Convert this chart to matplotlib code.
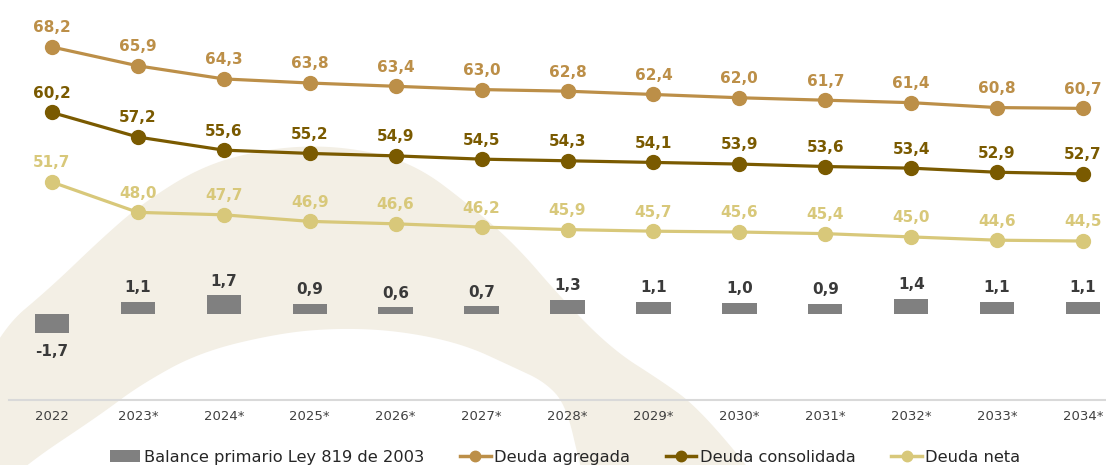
import matplotlib
matplotlib.use('Agg')
import matplotlib.pyplot as plt
from matplotlib.patches import Polygon, Patch
from matplotlib.lines import Line2D
import numpy as np

# datos
years = ["2022", "2023*", "2024*", "2025*", "2026*", "2027*", "2028*",
         "2029*", "2030*", "2031*", "2032*", "2033*", "2034*"]
balance_primario = [-1.7, 1.1, 1.7, 0.9, 0.6, 0.7, 1.3, 1.1, 1.0, 0.9, 1.4, 1.1, 1.1]
deuda_agregada = [68.2, 65.9, 64.3, 63.8, 63.4, 63.0, 62.8, 62.4, 62.0, 61.7, 61.4, 60.8, 60.7]
deuda_consolidada = [60.2, 57.2, 55.6, 55.2, 54.9, 54.5, 54.3, 54.1, 53.9, 53.6, 53.4, 52.9, 52.7]
deuda_neta = [51.7, 48.0, 47.7, 46.9, 46.6, 46.2, 45.9, 45.7, 45.6, 45.4, 45.0, 44.6, 44.5]

C_AGR = '#bc8f48'
C_CON = '#7a5a00'
C_NET = '#d8c87a'
C_BAR = '#808080'
C_BG = '#f3efe5'


def fmt(v):
    return f"{v:.1f}".replace('.', ',')


def chaikin(pts, n=4):
    # suaviza un poligono cerrado
    pts = np.asarray(pts, dtype=float)
    for _ in range(n):
        nxt = np.roll(pts, -1, axis=0)
        q = 0.75 * pts + 0.25 * nxt
        r = 0.25 * pts + 0.75 * nxt
        pts = np.empty((2 * len(q), 2))
        pts[0::2] = q
        pts[1::2] = r
    return pts


W, H = 1106, 465
fig = plt.figure(figsize=(W / 100, H / 100), dpi=100)

# arco decorativo de fondo (pixeles)
bg = fig.add_axes([0, 0, 1, 1], zorder=-1)
bg.set_xlim(0, W)
bg.set_ylim(H, 0)
bg.axis('off')
outer = [(-40, 420), (0, 330), (50, 288), (100, 240), (140, 205), (200, 167),
         (260, 150), (320, 145), (380, 153), (423, 170), (463, 200), (513, 242),
         (563, 300), (613, 350), (660, 380), (695, 405), (747, 465), (770, 500)]
inner = [(590, 500), (580, 465), (566, 405), (545, 382), (513, 367), (463, 344),
         (400, 331), (340, 328), (280, 333), (200, 352), (140, 385), (100, 415),
         (25, 465), (-10, 500)]
bg.add_patch(Polygon(chaikin(outer + inner), closed=True, facecolor=C_BG,
                     edgecolor='none'))

x = np.arange(len(years))
left = 9 / W
ax = fig.add_axes([left, 65 / H, 1117 / W, 400 / H])
ax2 = ax.twinx()
ax.patch.set_visible(False)
ax2.patch.set_visible(False)

# barras en eje secundario
ax2.bar(x, balance_primario, width=0.4, color=C_BAR, zorder=2)
for i, v in enumerate(balance_primario):
    if v >= 0:
        ax2.annotate(fmt(v), (i, v), xytext=(0, 7), textcoords='offset points',
                     ha='center', va='baseline', fontsize=11, fontweight='bold',
                     color='#3a3a3a')
    else:
        ax2.annotate(fmt(v), (i, v), xytext=(0, -8), textcoords='offset points',
                     ha='center', va='top', fontsize=11, fontweight='bold',
                     color='#3a3a3a')
ax2.set_ylim(-86 / 11, 314 / 11)

# lineas
for serie, col in [(deuda_agregada, C_AGR), (deuda_consolidada, C_CON),
                   (deuda_neta, C_NET)]:
    ax.plot(x, serie, color=col, lw=2.3, marker='o', markersize=10, zorder=3)
    for i, v in enumerate(serie):
        ax.annotate(fmt(v), (i, v), xytext=(0, 10.5), textcoords='offset points',
                    ha='center', va='baseline', fontsize=11, fontweight='bold',
                    color=col)
ax.set_ylim(25.08, 73.94)
ax.set_zorder(ax2.get_zorder() + 1)

ax.set_xlim(-0.5, 12.5)
ax.set_xticks(x)
ax.set_xticklabels(years, fontsize=9.5, color='#404040')
ax.tick_params(axis='x', length=0, pad=7)
ax.set_yticks([])
ax2.set_yticks([])
for a in (ax, ax2):
    for s in ('top', 'right', 'left', 'bottom'):
        a.spines[s].set_visible(False)
ax.spines['bottom'].set_visible(True)
ax.spines['bottom'].set_color('#d9d9d9')
ax.spines['bottom'].set_linewidth(1.5)

handles = [
    Patch(facecolor=C_BAR, edgecolor='none'),
    Line2D([], [], color=C_AGR, lw=2.5, marker='o', markersize=7.5),
    Line2D([], [], color=C_CON, lw=2.5, marker='o', markersize=7.5),
    Line2D([], [], color=C_NET, lw=2.5, marker='o', markersize=7.5),
]
labels = ["Balance primario Ley 819 de 2003", "Deuda agregada",
          "Deuda consolidada", "Deuda neta"]
leg = fig.legend(handles, labels, loc='center', bbox_to_anchor=(565 / W, 1 - 457 / H),
                 ncol=4, frameon=False, fontsize=11.7, handlelength=1.9,
                 handletextpad=0.2, columnspacing=2.2, borderaxespad=0)
for t in leg.get_texts():
    t.set_color('#262626')

fig.savefig('out.png', dpi=100)
